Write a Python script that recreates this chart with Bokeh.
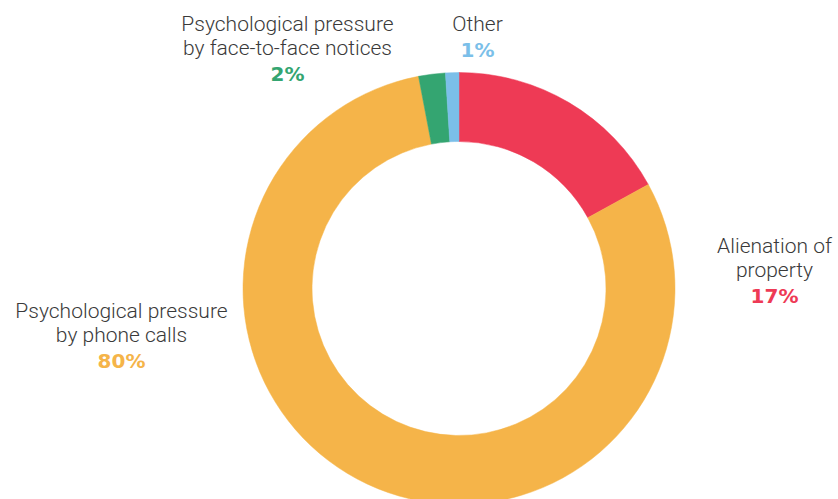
import math
from bokeh.plotting import figure
from bokeh.models import Range1d, ColumnDataSource
from bokeh.core.properties import value
from bokeh.embed import file_html
from bokeh.resources import INLINE

# Data
categories = ["Alienation of property", "Psychological pressure by phone calls",
              "Psychological pressure by face-to-face notices", "Other"]
shares = [17, 80, 2, 1]
colors = ["#EE3A55", "#F5B449", "#34A571", "#7BBFE9"]

# label layout (page pixel coordinates)
label_lines = [["Alienation of", "property"],
               ["Psychological pressure", "by phone calls"],
               ["Psychological pressure", "by face-to-face notices"],
               ["Other"]]
label_pos = [(774, 245), (121, 310), (287, 23), (477, 23)]
line_gap = 24.5

W, H = 838, 499
p = figure(width=W, height=H, output_backend="svg", toolbar_location=None,
           x_range=Range1d(0, W), y_range=Range1d(-H, 0),
           min_border=0, min_border_left=0, min_border_right=0,
           min_border_top=0, min_border_bottom=0)
p.axis.visible = False
p.grid.visible = False
p.outline_line_color = None
p.background_fill_color = "white"
p.border_fill_color = "white"

cx, cy = 458.5, -288
r_out, r_in = 216, 147

total = sum(shares)
starts, ends = [], []
acc = 0
for s in shares:
    a0 = math.pi / 2 - 2 * math.pi * acc / total
    acc += s
    a1 = math.pi / 2 - 2 * math.pi * acc / total
    starts.append(a0)
    ends.append(a1)

src = ColumnDataSource(dict(start=starts, end=ends, color=colors, cat=categories))
p.annular_wedge(x=cx, y=cy, inner_radius=r_in, outer_radius=r_out,
                start_angle="start", end_angle="end", direction="clock",
                fill_color="color", line_color="color", line_width=0.5, source=src)

tx, ty, tt = [], [], []
px, py, pt, pc = [], [], [], []
for lines, (x, y), s, c in zip(label_lines, label_pos, shares, colors):
    for i, ln in enumerate(lines):
        tx.append(x)
        ty.append(-(y + i * line_gap))
        tt.append(ln)
    px.append(x)
    py.append(-(y + len(lines) * line_gap + 1.5))
    pt.append(f"{s}%")
    pc.append(c)

p.text(x=tx, y=ty, text=tt, text_font=value("Roboto Light"), text_font_size="21px",
       text_color="#3a3a3a", text_align="center", text_baseline="middle")
p.text(x=px, y=py, text=pt, text_color=pc, text_font=value("DejaVu Sans"),
       text_font_size="20px", text_font_style="bold",
       text_align="center", text_baseline="middle")

open("out.html", "w").write(file_html(p, INLINE))
